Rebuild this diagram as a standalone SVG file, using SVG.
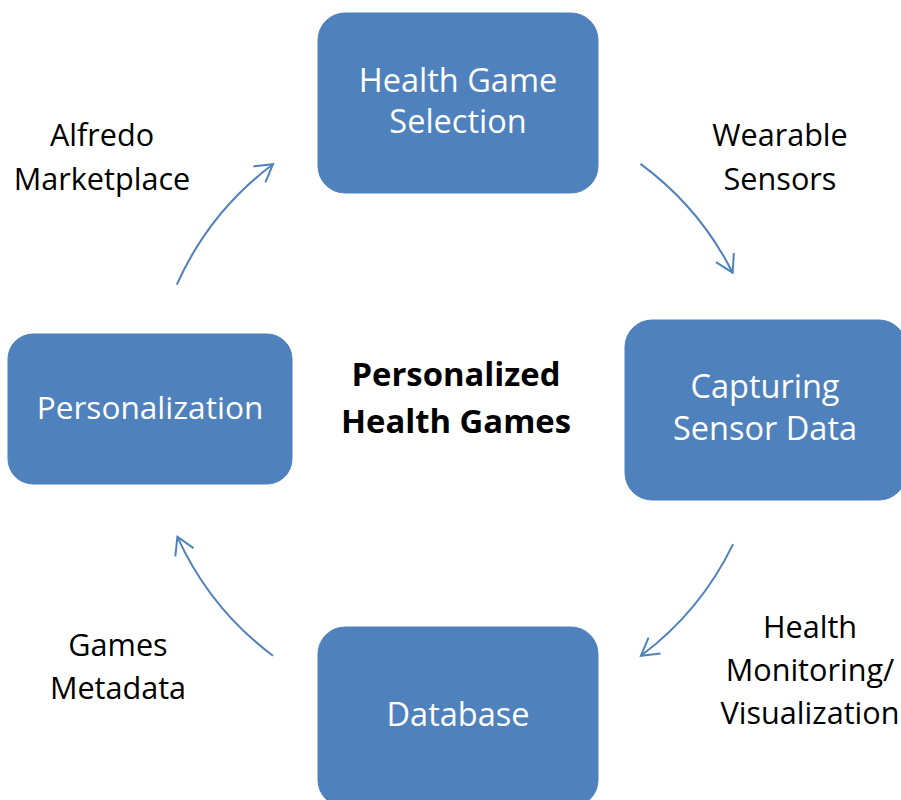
<svg xmlns="http://www.w3.org/2000/svg" width="901" height="800" viewBox="0 0 901 800">
<defs>
<style>
.box{fill:#4F81BD;stroke:#4F81BD;stroke-width:1}
.bt{font-family:"Open Sans","Noto Sans","Liberation Sans",sans-serif;font-size:32.5px;fill:#FFFFFF;text-anchor:middle}
.lb{font-family:"Open Sans","Noto Sans","Liberation Sans",sans-serif;font-size:30.6px;fill:#000000;text-anchor:middle}
.ti{font-family:"Open Sans","Noto Sans","Liberation Sans",sans-serif;font-size:32.8px;font-weight:bold;fill:#000000;text-anchor:middle}
.arc{fill:none;stroke:#4F81BD;stroke-width:2;marker-end:url(#ah)}
</style>
<marker id="ah" markerUnits="userSpaceOnUse" markerWidth="24" markerHeight="24" viewBox="-20 -12 24 24" refX="0" refY="0" orient="auto">
<path d="M-17,-10 L0,0 L-17,10" fill="none" stroke="#4F81BD" stroke-width="2"/>
</marker>
</defs>
<rect width="901" height="800" fill="#FFFFFF"/>
<g id="connectors">
<path class="arc" d="M640.5,163.9 A307,307 0 0 1 732.6,272.7"/>
<path class="arc" d="M733.1,544.1 A307,307 0 0 1 640.9,655.8"/>
<path class="arc" d="M273,655.8 A307,307 0 0 1 177.4,536.8"/>
<path class="arc" d="M176.8,284.7 A307,307 0 0 1 273,164.2"/>
</g>
<g id="node-health-game-selection">
<rect class="box" x="318" y="13" width="280" height="180" rx="27"/>
<text class="bt" x="458" y="92">Health Game</text>
<text class="bt" x="458" y="133">Selection</text>
</g>
<g id="node-capturing-sensor-data">
<rect class="box" x="625" y="320" width="281" height="180" rx="27"/>
<text class="bt" x="765" y="398">Capturing</text>
<text class="bt" x="765" y="440">Sensor Data</text>
</g>
<g id="node-database">
<rect class="box" x="318" y="627" width="280" height="180" rx="27"/>
<text class="bt" x="458" y="726">Database</text>
</g>
<g id="node-personalization">
<rect class="box" x="8" y="334" width="284" height="150" rx="25"/>
<text class="bt" x="150" y="419" style="font-size:31.6px">Personalization</text>
</g>
<g id="title">
<text class="ti" x="456" y="386">Personalized</text>
<text class="ti" x="456" y="433">Health Games</text>
</g>
<g id="labels">
<text class="lb" x="102" y="146">Alfredo</text>
<text class="lb" x="102" y="190">Marketplace</text>
<text class="lb" x="780" y="146">Wearable</text>
<text class="lb" x="780" y="190">Sensors</text>
<text class="lb" x="810" y="638">Health</text>
<text class="lb" x="810" y="681">Monitoring/</text>
<text class="lb" x="810" y="724">Visualization</text>
<text class="lb" x="118" y="656">Games</text>
<text class="lb" x="118" y="699">Metadata</text>
</g>
</svg>
